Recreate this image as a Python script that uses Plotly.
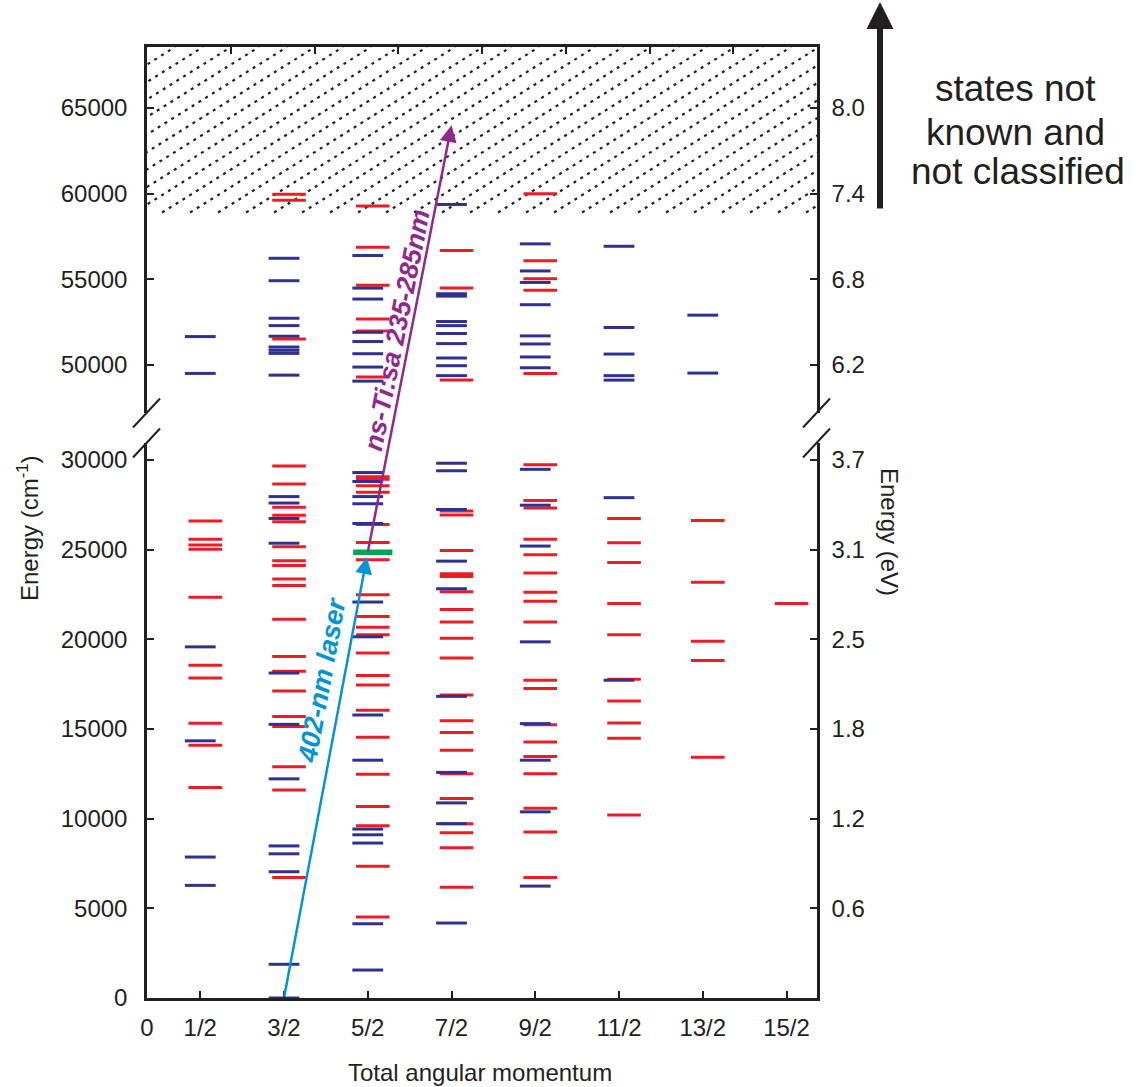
import math
import plotly.graph_objects as go

# ---------------- data ----------------
J_LABELS = ['1/2', '3/2', '5/2', '7/2', '9/2', '11/2', '13/2', '15/2']

red_levels = {
    '1/2': [26600, 25580, 25260, 25020, 22340, 18560, 17840, 15320, 14100, 11740],
    '3/2': [59960, 59610, 51520, 29660, 28660, 27360, 26920, 26560, 25160, 24380, 24120,
            23360, 23000, 21120, 19040, 18220, 17120, 15700, 15140, 12900, 11600, 6720],
    '5/2': [59280, 56880, 54650, 52680, 51990, 49300, 29060, 28920, 28560, 28200, 26400,
            25400, 24440, 22480, 21280, 20680, 20260, 19240, 17980, 17460, 16040, 14540,
            12480, 10680, 9600, 7340, 4520],
    '7/2': [56680, 54490, 49120, 27160, 26940, 24960, 23660, 23500, 22660, 21660, 20960,
            20060, 18960, 16900, 15460, 14800, 13820, 12500, 11120, 9720, 9220, 8380, 6180],
    '9/2': [60000, 56090, 55040, 54360, 49510, 29740, 27740, 27320, 25580, 24720, 23700,
            22620, 22120, 20960, 17720, 17260, 15240, 14280, 13460, 12500, 10580, 9260, 6720],
    '11/2': [26740, 25380, 24280, 22000, 20260, 17780, 16560, 15340, 14480, 10200],
    '13/2': [26620, 23180, 19900, 18820, 13420],
    '15/2': [22000],
}

blue_levels = {
    '1/2': [51660, 49510, 19580, 14340, 7860, 6280],
    '3/2': [56230, 54920, 52730, 52300, 51680, 51050, 50860, 50680, 49410, 27960, 27600,
            26740, 25360, 18120, 15260, 12220, 8480, 8040, 7040, 1880, 0],
    '5/2': [56390, 54490, 53850, 51910, 51370, 50660, 49880, 49060, 29300, 28800, 27960,
            27560, 26460, 22080, 20140, 15780, 13260, 9420, 9100, 8640, 4140, 1560],
    '7/2': [59370, 54160, 54020, 52540, 52300, 51840, 51250, 50410, 49960, 49380, 29820,
            29400, 27240, 24360, 22820, 16820, 12580, 10880, 9720, 4180],
    '9/2': [57070, 55490, 54820, 53520, 51700, 51230, 50470, 49840, 29480, 27480, 25200,
            19860, 15300, 13260, 10380, 6240],
    '11/2': [56930, 52190, 50640, 49380, 49120, 27900, 17720],
    '13/2': [52910, 49530],
    '15/2': [],
}

# excitation scheme
ground_J, ground_E = '3/2', 0
inter_J, inter_E = '5/2', 24860
final_J, final_E = '7/2', 64000
unknown_start_E = 58900

left_ticks_low = [0, 5000, 10000, 15000, 20000, 25000, 30000]
left_ticks_high = [50000, 55000, 60000, 65000]
ev_ticks_low = [5000, 10000, 15000, 20000, 25000, 30000]
ev_text_low = ['0.6', '1.2', '1.8', '2.5', '3.1', '3.7']
ev_ticks_high = [50000, 55000, 60000, 65000]
ev_text_high = ['6.2', '6.8', '7.4', '8.0']

# ---------------- style / layout constants ----------------
W, H = 1136, 1087
ML, MR, MT, MB = 147, 319, 47, 89
PW, PH = W - ML - MR, H - MT - MB
X0 = 0.364
XR = [X0, X0 + 8]
DOM_LO = [0, 0.5836]
DOM_HI = [0.6151, 1.0]
R_LO = [0, 30948]
R_HI = [47198, 68560]
BREAK = 40000

BLUE = '#2E3192'
RED = '#ED1C24'
GREEN = '#00A651'
CYAN = '#0096D6'
PURPLE = '#92278F'
INK = '#231F20'
FONT = 'Liberation Sans, Arial, sans-serif'
RED_SHIFT = 0.06

xpos = {j: i + 1 for i, j in enumerate(J_LABELS)}


def split(levels, shift=0.0):
    lo_x, lo_y, hi_x, hi_y = [], [], [], []
    for j, vals in levels.items():
        for v in vals:
            if v > BREAK:
                hi_x.append(xpos[j] + shift)
                hi_y.append(v)
            else:
                lo_x.append(xpos[j] + shift)
                lo_y.append(v)
    return lo_x, lo_y, hi_x, hi_y


fig = go.Figure()


def add_bars(levels, color, size, shift):
    lx, ly, hx, hy = split(levels, shift)
    for xs, ys, ya in ((lx, ly, 'y'), (hx, hy, 'y2')):
        fig.add_trace(go.Scatter(
            x=xs, y=ys, xaxis='x', yaxis=ya, mode='markers',
            marker=dict(symbol='line-ew', size=size, line=dict(color=color, width=3)),
            showlegend=False, hoverinfo='y'))


add_bars(red_levels, RED, 24, RED_SHIFT)
add_bars(blue_levels, BLUE, 22, 0.0)

# intermediate level (green)
fig.add_trace(go.Scatter(
    x=[xpos[inter_J] + RED_SHIFT], y=[inter_E], xaxis='x', yaxis='y', mode='markers',
    marker=dict(symbol='line-ew', size=28, line=dict(color=GREEN, width=5.5)),
    showlegend=False))

# invisible helpers so the mirrored axes (right eV axes, top axis) are drawn
for xa, ya, yr in (('x', 'y3', R_LO), ('x', 'y4', R_HI), ('x3', 'y2', R_HI)):
    fig.add_trace(go.Scatter(x=[XR[0]], y=[yr[0]], xaxis=xa, yaxis=ya, mode='markers',
                             marker=dict(opacity=0), hoverinfo='skip', showlegend=False))


def to_hi(v_lo):
    # value on lower axis -> equivalent value on upper axis (same vertical position)
    f = DOM_LO[0] + (v_lo - R_LO[0]) / (R_LO[1] - R_LO[0]) * (DOM_LO[1] - DOM_LO[0])
    return R_HI[0] + (f - DOM_HI[0]) / (DOM_HI[1] - DOM_HI[0]) * (R_HI[1] - R_HI[0])


def px_x(px):
    return (px - ML) / PW


def px_y(py):
    return (H - MB - py) / PH


def note(text, x, y, size, angle=0, color=INK):
    return dict(x=px_x(x), y=px_y(y), xref='paper', yref='paper', showarrow=False,
                xanchor='center', yanchor='middle', text=text, textangle=angle,
                font=dict(family=FONT, size=size, color=color))


annotations = [
    # 402-nm laser arrow
    dict(x=xpos[inter_J], y=inter_E, xref='x', yref='y',
         ax=xpos[ground_J], ay=ground_E, axref='x', ayref='y',
         showarrow=True, arrowhead=2, arrowsize=1.35, arrowwidth=2.5, arrowcolor=CYAN,
         standoff=5, text=''),
    # Ti:sa arrow
    dict(x=xpos[final_J], y=final_E, xref='x', yref='y2',
         ax=xpos[inter_J], ay=to_hi(inter_E), axref='x', ayref='y2',
         showarrow=True, arrowhead=2, arrowsize=1.35, arrowwidth=2.5, arrowcolor=PURPLE,
         standoff=0, text=''),
    dict(x=2.454, y=17732, xref='x', yref='y', text='<b><i>402-nm laser</i></b>', showarrow=False,
         xanchor='center', yanchor='middle',
         textangle=-79.6, font=dict(family=FONT, size=27, color=CYAN)),
    dict(x=3.349, y=52043, xref='x', yref='y2', text='<b><i>ns-Ti:sa 235-285nm</i></b>',
         showarrow=False, xanchor='center', yanchor='middle',
         textangle=-78.6, font=dict(family=FONT, size=26.5, color=PURPLE)),
    # big black arrow
    dict(x=px_x(880), y=px_y(2), xref='paper', yref='paper', ax=0, ay=208,
         showarrow=True, arrowhead=2, arrowsize=0.9, arrowwidth=6, arrowcolor=INK, text=''),
    note('states not', 1015, 89, 37),
    note('known and', 1015, 132, 37),
    note('not classified', 1018, 172, 37),
    note('Energy (cm<sup>-1</sup>)', 28, 528, 24, -90),
    note('Energy (eV)', 890, 532, 24, 90),
    note('Total angular momentum', 480, 1072, 24),
]

shapes = []
# axis break marks
for xp in (0.0, 1.0):
    for dom_edge in (DOM_HI[0], DOM_LO[1]):
        cx = ML + xp * PW
        cy = H - MB - dom_edge * PH
        shapes.append(dict(type='line', xref='paper', yref='paper',
                           x0=px_x(cx - 14), y0=px_y(cy + 14.5),
                           x1=px_x(cx + 13), y1=px_y(cy - 14.5),
                           line=dict(color=INK, width=2)))

# dotted hatching of the "states not known" region (clipped to the upper subplot)
HATCH_ANGLE = math.radians(32)
HATCH_STEP_PX = 28
px_per_x = PW / (XR[1] - XR[0])
px_per_y = (DOM_HI[1] - DOM_HI[0]) * PH / (R_HI[1] - R_HI[0])
rise_px = (R_HI[1] - unknown_start_E) * px_per_y
run_units = rise_px / math.tan(HATCH_ANGLE) / px_per_x
step_units = HATCH_STEP_PX / px_per_x
xs = XR[0] - run_units
while xs < XR[1]:
    shapes.append(dict(type='line', xref='x', yref='y2', layer='below',
                       x0=xs, y0=unknown_start_E, x1=xs + run_units, y1=R_HI[1],
                       line=dict(color=INK, width=2.2, dash='3px,5px')))
    xs += step_units

axis_common = dict(showline=True, linecolor=INK, linewidth=2.5, ticks='inside', ticklen=7,
                   tickwidth=2, tickcolor=INK, showgrid=False, zeroline=False,
                   tickfont=dict(family=FONT, size=24, color=INK))

fig.update_layout(
    width=W, height=H, margin=dict(l=ML, r=MR, t=MT, b=MB),
    paper_bgcolor='white', plot_bgcolor='rgba(0,0,0,0)', showlegend=False,
    xaxis=dict(domain=[0, 1], range=XR, anchor='y',
               tickvals=[X0] + [xpos[j] for j in J_LABELS], ticktext=['0'] + J_LABELS,
               ticklabelstandoff=6, **axis_common),
    xaxis3=dict(overlaying='x', anchor='y2', side='top', range=XR,
                tickvals=[X0 + k for k in range(1, 8)], showticklabels=False, **axis_common),
    yaxis=dict(domain=DOM_LO, range=R_LO, anchor='x', tickvals=left_ticks_low,
               ticktext=[str(v) for v in left_ticks_low], ticklabelstandoff=12, **axis_common),
    yaxis2=dict(domain=DOM_HI, range=R_HI, anchor='x', tickvals=left_ticks_high,
                ticktext=[str(v) for v in left_ticks_high], ticklabelstandoff=12, **axis_common),
    yaxis3=dict(overlaying='y', side='right', anchor='x', range=R_LO, tickvals=ev_ticks_low,
                ticktext=ev_text_low, ticklabelstandoff=7, **axis_common),
    yaxis4=dict(overlaying='y2', side='right', anchor='x', range=R_HI, tickvals=ev_ticks_high,
                ticktext=ev_text_high, ticklabelstandoff=7, **axis_common),
    annotations=annotations,
    shapes=shapes,
)

fig.write_html('out.html')
